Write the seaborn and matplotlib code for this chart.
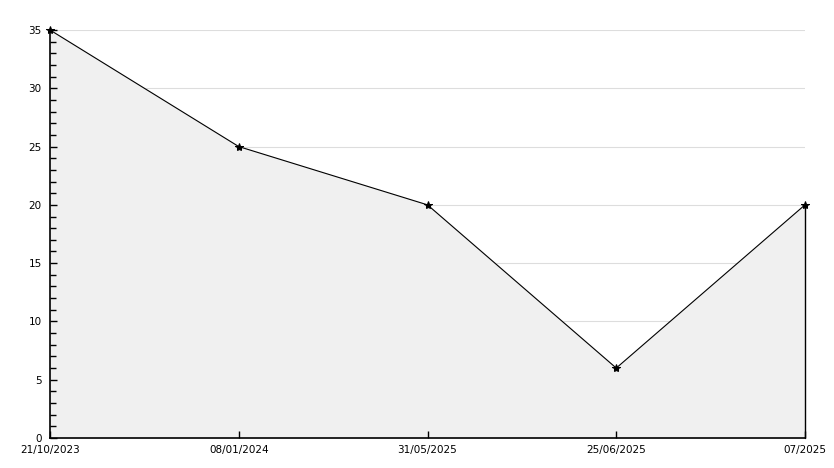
import matplotlib
matplotlib.use('Agg')
import matplotlib.pyplot as plt
import seaborn as sns
from matplotlib.ticker import MultipleLocator

sns.set_theme(style='white')
plt.rcParams['font.family'] = 'DejaVu Sans'

# Dados
datas = ['21/10/2023', '08/01/2024', '31/05/2025', '25/06/2025', '07/2025']
valores = [35, 25, 20, 6, 20]
posicoes = list(range(len(datas)))

fig = plt.figure(figsize=(8.34, 4.68), dpi=100)
ax = fig.add_axes([50 / 834, 30 / 468, 755 / 834, 408 / 468])

ax.set_xlim(0, len(datas) - 1)
ax.set_ylim(0, 35)
ax.set_xticks(posicoes)
ax.set_xticklabels(datas)
ax.yaxis.set_major_locator(MultipleLocator(5))
ax.yaxis.set_minor_locator(MultipleLocator(1))

# linhas de grade por baixo da área preenchida
for y in ax.get_yticks()[1:]:
    ax.axhline(y, color='#dddddd', lw=0.8, zorder=0)

ax.fill_between(posicoes, valores, 0, color='#f0f0f0', zorder=1)
ax.plot([posicoes[-1], posicoes[-1]], [0, valores[-1]], color='black', lw=1,
        zorder=2, clip_on=False)
sns.lineplot(x=posicoes, y=valores, ax=ax, color='black', lw=0.8,
             marker='*', markersize=6, markeredgecolor='black', zorder=3,
             clip_on=False)
ax.set_xlim(0, len(datas) - 1)
ax.set_ylim(0, 35)
ax.set_axisbelow(False)

for s in ['top', 'right']:
    ax.spines[s].set_visible(False)
for s in ['left', 'bottom']:
    ax.spines[s].set_color('black')
    ax.spines[s].set_linewidth(1.2)

ax.tick_params(axis='x', which='major', bottom=True, direction='in', length=5,
               width=1, color='black', labelsize=7.5, labelcolor='black', pad=5)
ax.tick_params(axis='y', which='major', left=True, direction='in', length=5,
               width=1, color='black', labelsize=7.5, labelcolor='black', pad=6)
ax.tick_params(axis='y', which='minor', left=True, direction='in', length=4,
               width=1, color='black')

fig.savefig('out.png', dpi=100)
